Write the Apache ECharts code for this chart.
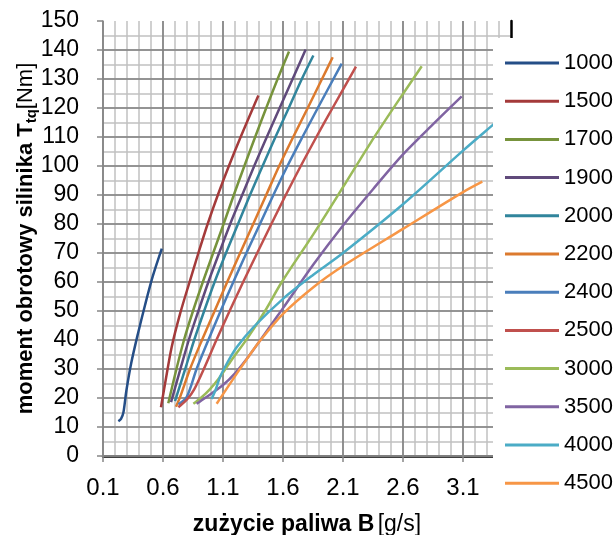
<!DOCTYPE html>
<html>
<head>
<meta charset="utf-8">
<script src="https://cdn.jsdelivr.net/npm/echarts@6/dist/echarts.min.js"></script>
<style>
  html, body { margin: 0; padding: 0; background: #fff; }
  #chart { width: 615px; height: 535px; }
</style>
</head>
<body>
<div id="chart"></div>
<script>
  // prędkości obrotowe [obr/min] - nazwy serii
  const speeds = ['1000', '1500', '1700', '1900', '2000', '2200', '2400', '2500', '3000', '3500', '4000', '4500'];
  const colors = ['#254E87', '#A43A3A', '#77933C', '#604A7B', '#31859C', '#DC7A2E', '#4A7EBB', '#C0504D', '#9BBB59', '#8064A2', '#4BACC6', '#F79646'];

  // [B g/s, Ttq Nm]
  const s1000 = [[0.228, 12], [0.25, 12.8], [0.27, 15], [0.295, 22.6], [0.335, 32], [0.39, 42], [0.45, 52], [0.515, 62], [0.59, 71.5]];
  const s1500 = [[0.583, 16.8], [0.617, 24.9], [0.672, 37.5], [0.742, 49], [0.825, 60.5], [0.895, 70], [0.972, 80], [1.057, 90], [1.149, 100], [1.247, 110], [1.35, 120], [1.395, 124.3]];
  const s1700 = [[0.644, 18.2], [0.712, 30], [0.775, 40], [0.85, 50], [0.932, 60], [1.018, 70], [1.105, 80], [1.19, 90], [1.278, 100], [1.368, 110], [1.46, 120], [1.555, 130], [1.65, 139.5]];
  const s1900 = [[0.667, 18.6], [0.745, 30], [0.815, 40], [0.895, 50], [0.978, 60], [1.068, 70], [1.16, 80], [1.26, 90], [1.36, 100], [1.465, 110], [1.572, 120], [1.68, 130], [1.789, 140.2]];
  const s2000 = [[0.70, 18.9], [0.785, 30], [0.86, 40], [0.943, 50], [1.03, 60], [1.125, 70], [1.225, 80], [1.325, 90], [1.43, 100], [1.537, 110], [1.648, 120], [1.757, 130], [1.853, 138.1]];
  const s2200 = [[0.708, 17], [0.742, 20.3], [0.825, 30], [0.925, 40], [1.03, 50], [1.135, 60], [1.243, 70], [1.352, 80], [1.46, 90], [1.568, 100], [1.685, 110], [1.806, 120], [1.925, 130], [2.014, 137.5]];
  const s2400 = [[0.728, 17.8], [0.797, 20.3], [0.88, 30], [0.978, 40], [1.08, 50], [1.186, 60], [1.295, 70], [1.408, 80], [1.52, 90], [1.637, 100], [1.762, 110], [1.89, 120], [2.02, 130], [2.089, 135.3]];
  const s2500 = [[0.728, 16.8], [0.80, 19.5], [0.86, 23], [0.94, 30], [1.045, 40], [1.155, 50], [1.268, 60], [1.385, 70], [1.503, 80], [1.623, 90], [1.748, 100], [1.878, 110], [2.013, 120], [2.208, 134.3]];
  const s3000 = [[0.853, 18], [0.915, 20], [0.99, 23], [1.07, 27], [1.17, 33], [1.31, 41], [1.45, 50], [1.59, 60], [1.855, 76.6], [2.1, 92.7], [2.33, 108], [2.545, 121.5], [2.756, 134.4]];
  const s3500 = [[0.88, 18], [0.95, 20], [1.1, 24.5], [1.2, 28.5], [1.325, 35], [1.6, 51], [1.853, 66], [2.1, 79.5], [2.35, 92], [2.6, 104], [2.853, 114.5], [3.089, 124]];
  const s4000 = [[1.006, 19.7], [1.04, 23], [1.075, 27.2], [1.14, 32.5], [1.214, 37.5], [1.353, 44.4], [1.6, 54.2], [1.853, 62.5], [2.1, 70], [2.6, 86.8], [3.1, 105.3], [3.344, 114], [3.5, 119.5]];
  const s4500 = [[1.047, 18], [1.095, 21], [1.195, 27.2], [1.3, 33.5], [1.41, 39.8], [1.6, 49], [1.853, 58.2], [2.1, 65.5], [2.6, 78.3], [3.1, 91], [3.261, 94.6]];
  const allSeries = [s1000, s1500, s1700, s1900, s2000, s2200, s2400, s2500, s3000, s3500, s4000, s4500];

  const FONT = "'Liberation Sans', Arial, sans-serif";

  const chart = echarts.init(document.getElementById('chart'));
  const option = {
    animation: false,
    backgroundColor: '#fff',
    grid: { left: 103, top: 21, width: 408, height: 435, outerBoundsMode: 'none' },
    legend: {
      orient: 'vertical',
      left: 493,
      top: 38,
      backgroundColor: '#fff',
      padding: [14, 10, 20, 12],
      itemGap: 16.2,
      itemWidth: 54,
      itemHeight: 3,
      icon: 'rect',
      textStyle: { fontFamily: FONT, fontSize: 22, color: '#000' },
      data: speeds
    },
    xAxis: [{
      // główna oś: etykiety i ciemna siatka
      type: 'value', min: 0.1, max: 3.5, interval: 0.5, z: 1,
      name: '{b|zużycie paliwa B} {n|[g/s]}',
      nameLocation: 'middle', nameGap: 57, nameMoveOverlap: false,
      nameTextStyle: {
        rich: {
          b: { fontFamily: FONT, fontSize: 23, fontWeight: 'bold', color: '#000' },
          n: { fontFamily: FONT, fontSize: 23, color: '#000' }
        }
      },
      axisLine: { lineStyle: { color: '#868686', width: 1.5 } },
      axisTick: { show: true, length: 6, lineStyle: { color: '#868686', width: 1.5 } },
      axisLabel: { fontFamily: FONT, fontSize: 24, color: '#000', margin: 20, showMaxLabel: false,
        formatter: v => v.toFixed(1) },
      splitLine: { show: true, showMaxLine: false, lineStyle: { color: '#808080', width: 1.6 } }
    }, {
      // pomocnicza oś: jasna siatka co 0.1 i ramka u góry
      type: 'value', min: 0.1, max: 3.5, interval: 0.1, position: 'top', z: 0,
      axisLine: { lineStyle: { color: '#000', width: 2.5 } },
      axisTick: { show: false }, axisLabel: { show: false },
      splitLine: { show: true, showMinLine: false, showMaxLine: false, lineStyle: { color: '#C0C0C0', width: 1.5 } }
    }],
    yAxis: [{
      type: 'value', min: 0, max: 150, interval: 10, z: 1,
      name: '{b|moment obrotowy silinika T}{s|tq}{n|[Nm]}',
      nameLocation: 'middle', nameGap: 64, nameMoveOverlap: false,
      nameTextStyle: {
        rich: {
          b: { fontFamily: FONT, fontSize: 22, fontWeight: 'bold', color: '#000' },
          s: { fontFamily: FONT, fontSize: 15, fontWeight: 'bold', color: '#000', padding: [12, 0, 0, 0] },
          n: { fontFamily: FONT, fontSize: 22, color: '#000' }
        }
      },
      axisLine: { show: true, lineStyle: { color: '#868686', width: 1.5 } },
      axisTick: { show: true, length: 6, lineStyle: { color: '#868686', width: 1.5 } },
      axisLabel: { fontFamily: FONT, fontSize: 23, color: '#000', margin: 24 },
      splitLine: { show: true, showMaxLine: false, lineStyle: { color: '#808080', width: 1.6 } }
    }, {
      type: 'value', min: 0, max: 150, interval: 5, position: 'right', z: 0,
      axisLine: { show: true, lineStyle: { color: '#000', width: 2.5 } },
      axisTick: { show: false }, axisLabel: { show: false },
      splitLine: { show: true, showMinLine: false, showMaxLine: false, lineStyle: { color: '#C0C0C0', width: 1.5 } }
    }],
    series: allSeries.map((d, i) => ({
      name: speeds[i],
      type: 'line',
      data: d,
      smooth: 0.3,
      showSymbol: false,
      color: colors[i],
      lineStyle: { width: 2.5, color: colors[i] },
      z: 3
    }))
  };
  chart.setOption(option);
</script>
</body>
</html>
